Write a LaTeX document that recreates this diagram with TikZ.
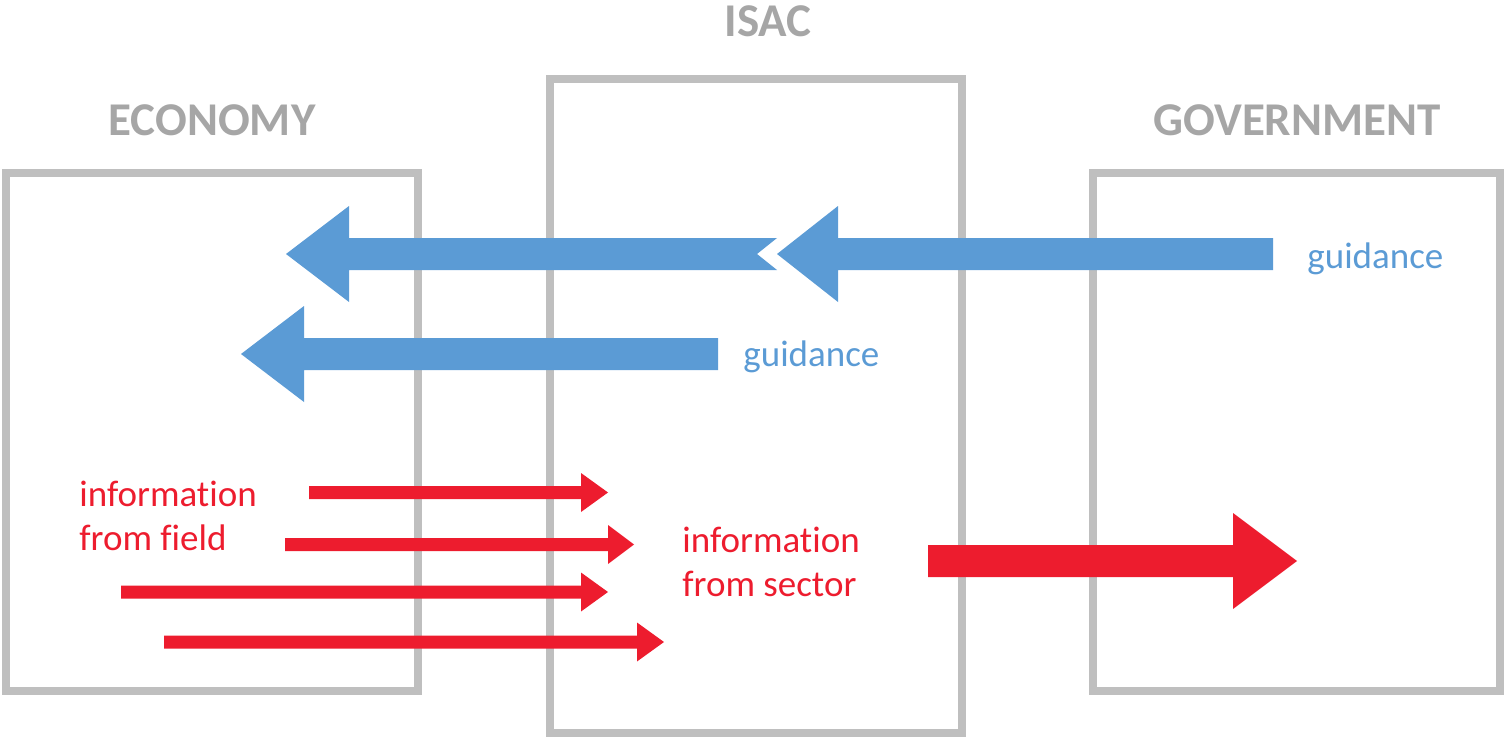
\documentclass[tikz,border=0pt]{standalone}
\usepackage{fontspec}
\setmainfont[Ligatures=NoCommon]{Carlito}
\definecolor{boxgray}{RGB}{191,191,191}
\definecolor{titlegray}{RGB}{166,166,166}
\definecolor{guideblue}{RGB}{91,155,213}
\definecolor{infored}{RGB}{237,28,46}
\begin{document}
\begin{tikzpicture}[x=0.5pt,y=-0.5pt,
  box/.style={draw=boxgray, line width=4pt, inner sep=0pt, outer sep=0pt},
  title/.style={font=\fontsize{23.5}{28}\selectfont\bfseries, text=titlegray, anchor=base, inner sep=0pt},
  lbl/.style={font=\fontsize{18.5}{22}\selectfont, anchor=base west, inner sep=0pt, align=left},
  bluearrow/.style={fill=guideblue},
  redarrow/.style={fill=infored}]
\useasboundingbox (0,0) rectangle (1504,738);
% boxes
\node[box, minimum width=206pt, minimum height=259pt] (eco) at (212,432) {};
\node[box, minimum width=206pt, minimum height=327pt] (isac) at (756,406) {};
\node[box, minimum width=203.5pt, minimum height=259pt] (gov) at (1296.5,432) {};
% titles
\node[title] (ecoT) at (212,135) {ECONOMY};
\node[title] (isacT) at (768,37) {ISAC};
\node[title] (govT) at (1297,135) {GOVERNMENT};
% blue guidance arrows
\fill[bluearrow] (777,254) -- (838,206) -- (838,238) -- (1273,238) -- (1273,270) -- (838,270) -- (838,302) -- cycle;
\fill[bluearrow] (286,254) -- (349,206) -- (349,238) -- (777,238) -- (757,254) -- (777,270) -- (349,270) -- (349,302) -- cycle;
\fill[bluearrow] (241,354) -- (304,306) -- (304,338) -- (718,338) -- (718,370) -- (304,370) -- (304,402) -- cycle;
% red information arrows
\fill[redarrow] (1297,561) -- (1233,513) -- (1233,545) -- (928,545) -- (928,577) -- (1233,577) -- (1233,609) -- cycle;
\fill[redarrow] (608,492.5) -- (581,473) -- (581,486) -- (309,486) -- (309,499) -- (581,499) -- (581,512) -- cycle;
\fill[redarrow] (634,544.5) -- (608,525) -- (608,538) -- (285,538) -- (285,551) -- (608,551) -- (608,564) -- cycle;
\fill[redarrow] (608,592) -- (581,572.5) -- (581,585.5) -- (121,585.5) -- (121,598.5) -- (581,598.5) -- (581,611.5) -- cycle;
\fill[redarrow] (664,642) -- (637,622.5) -- (637,635.5) -- (164,635.5) -- (164,648.5) -- (637,648.5) -- (637,661.5) -- cycle;
% labels
\node[lbl, text=guideblue] (guideA) at (1307,268) {guidance};
\node[lbl, text=guideblue] (guideB) at (743,366) {guidance};
\node[lbl, text=infored] (infoField) at (79,550) {information\\from field};
\node[lbl, text=infored] (infoSector) at (682,596) {information\\from sector};
\end{tikzpicture}
\end{document}
